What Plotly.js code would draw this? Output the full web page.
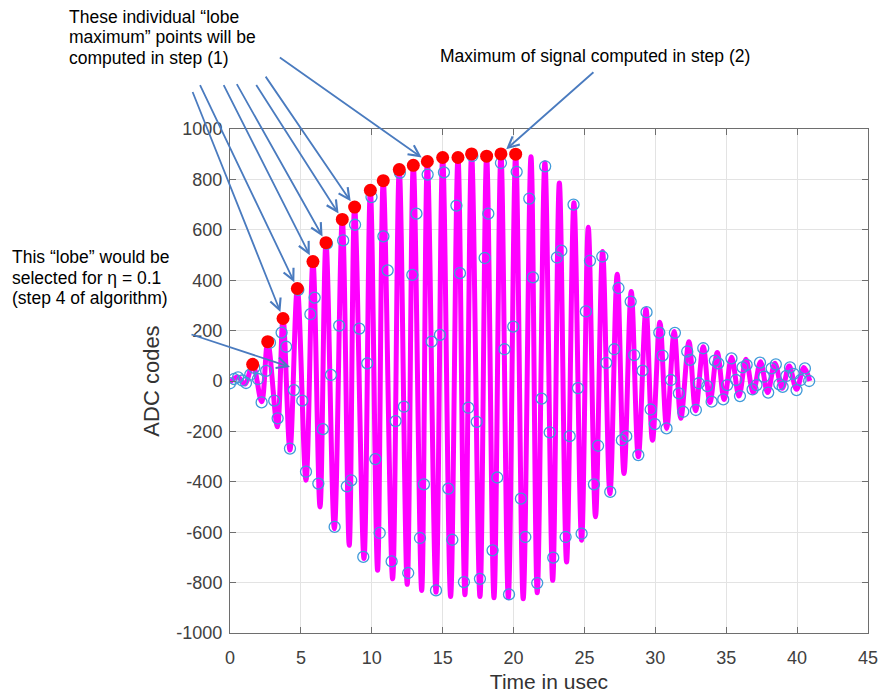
<!DOCTYPE html>
<html>
<head>
<meta charset="utf-8">
<script src="https://cdn.plot.ly/plotly-3.0.1.min.js"></script>
<style>html,body{margin:0;padding:0;background:#fff;}#chart{width:881px;height:696px;}</style>
</head>
<body>
<div id="chart"></div>
<script>
// Interpolated signal: lobe extrema (time in usec, ADC codes)
const curveT = [0.00,0.55,1.05,1.60,2.23,2.66,3.34,3.74,4.23,4.75,5.36,5.85,6.35,6.77,7.36,7.92,8.41,8.79,9.45,9.90,
  10.41,10.81,11.47,11.94,12.50,12.93,13.52,13.92,14.53,15.00,15.56,16.08,16.57,17.04,17.63,18.10,18.62,19.11,19.63,20.15,
  20.68,21.23,21.67,22.21,22.76,23.23,23.74,24.26,24.80,25.27,25.78,26.28,26.80,27.31,27.79,28.30,28.80,29.34,29.80,30.32,
  30.80,31.33,31.80,32.37,32.84,33.38,33.85,34.37,34.86,35.38,35.90,36.39,36.90,37.42,37.92,38.43,38.95,39.44,39.96,40.48,40.90];
const curveV = [-5,16,-12,66,-82,156,-182,248,-274,367,-394,474,-500,549,-586,641,-652,690,-704,757,
  -751,795,-785,839,-807,856,-831,871,-838,887,-855,887,-848,901,-855,892,-860,901,-860,900,
  -864,890,-840,866,-791,786,-718,707,-632,610,-539,514,-447,424,-367,355,-301,285,-235,233,
  -188,196,-148,156,-118,136,-85,113,-73,94,-60,86,-45,76,-46,70,-29,60,-33,54,0];

// ADC samples (open circles)
const sampleT = [0.00,0.29,0.57,0.86,1.13,1.43,1.71,1.97,2.23,2.55,2.82,3.12,3.36,3.64,3.96,4.23,4.51,4.82,5.10,5.36,
  5.67,5.97,6.23,6.55,6.84,7.12,7.38,7.70,7.98,8.24,8.55,8.82,9.12,9.40,9.68,9.98,10.25,10.56,10.82,11.12,
  11.40,11.68,11.98,12.27,12.57,12.86,13.15,13.40,13.68,13.94,14.22,14.53,14.81,15.09,15.40,15.68,15.97,16.22,16.50,16.81,
  17.09,17.40,17.63,17.96,18.22,18.52,18.85,19.11,19.36,19.68,19.98,20.22,20.52,20.83,21.11,21.37,21.67,21.98,22.23,22.55,
  22.80,23.06,23.37,23.67,23.96,24.23,24.54,24.80,25.10,25.39,25.67,25.96,26.26,26.54,26.82,27.10,27.40,27.64,27.95,28.26,
  28.51,28.80,29.10,29.38,29.67,29.97,30.28,30.51,30.79,31.10,31.38,31.66,31.97,32.25,32.46,32.86,33.07,33.38,33.66,33.97,
  34.20,34.44,34.79,35.07,35.37,35.69,35.97,36.15,36.44,36.86,37.14,37.38,37.66,37.96,38.20,38.50,38.74,38.98,39.24,39.50,
  39.76,39.96,40.25,40.55,40.85];
const sampleV = [-9,8,14,2,-8,25,52,8,-85,40,152,-78,-148,192,136,-268,-36,362,-78,-360,
  265,331,-407,-191,545,24,-579,220,558,-418,-394,620,208,-698,70,730,-310,-603,574,439,
  -716,-159,826,-102,-762,421,664,-623,-410,819,156,-831,183,828,-427,-630,696,428,-798,-106,
  893,-162,-785,488,664,-672,-383,865,126,-847,216,830,-467,-619,724,411,-802,-70,852,-204,
  -701,490,517,-619,-219,700,-28,-606,276,477,-410,-257,494,72,-440,126,369,-235,-219,315,
  103,-294,41,273,-113,-171,192,101,-188,4,191,-49,-122,117,84,-115,-9,130,-20,-82,
  81,70,-73,-16,90,4,-60,54,64,-33,-16,73,17,-46,50,66,-13,-23,20,54,
  28,-36,4,50,0];

// Individual "lobe maximum" points (red dots)
const lobeT = [1.60,2.66,3.74,4.75,5.85,6.77,7.92,8.79,9.90,10.81,11.94,12.93,13.92,15.00,16.08,17.04,18.10,19.11,20.15];
const lobeV = [66,156,248,367,474,549,641,690,757,795,839,856,871,887,887,901,892,901,900];

const xTickVals = [0,5,10,15,20,25,30,35,40,45];
const xTickText = ['0','5','10','15','20','25','30','35','40','45'];
const yTickVals = [-1000,-800,-600,-400,-200,0,200,400,600,800,1000];
const yTickText = ['-1000','-800','-600','-400','-200','0','200','400','600','800','1000'];

const W = 881, H = 696;
const M = {l: 230, r: 13, t: 129, b: 63};
const pw = W - M.l - M.r, ph = H - M.t - M.b;
const px = X => (X - M.l) / pw;
const py = Y => (H - M.b - Y) / ph;

const FONT = 'Arial, "Liberation Sans", sans-serif';
const ARROW = '#4a7bbf';

const traces = [
  {x: curveT, y: curveV, type: 'scatter', mode: 'lines',
   line: {color: '#ff00ff', width: 5, shape: 'spline', smoothing: 1}, hoverinfo: 'skip', showlegend: false},
  {x: sampleT, y: sampleV, type: 'scatter', mode: 'markers',
   marker: {symbol: 'circle-open', size: 11, color: '#409ad9', line: {width: 1.3, color: '#409ad9'}}, showlegend: false},
  {x: lobeT, y: lobeV, type: 'scatter', mode: 'markers',
   marker: {symbol: 'circle', size: 13, color: '#ff0000'}, showlegend: false}
];

function arrowTo(i, tailX, tailY) {
  return {x: lobeT[i], y: lobeV[i], xref: 'x', yref: 'y', text: '', showarrow: true,
    arrowhead: 5, arrowsize: 1.2, arrowwidth: 1.8, arrowcolor: ARROW, standoff: 7,
    ax: tailX, ay: tailY, axref: 'pixel', ayref: 'pixel'};
}
function label(text, X, Yc) {
  return {x: px(X), y: py(Yc), xref: 'paper', yref: 'paper', xanchor: 'left', yanchor: 'middle',
    text: text, showarrow: false, font: {family: FONT, size: 17.5, color: '#000'}, borderpad: 0};
}

const annotations = [
  arrowTo(2, -91, -228),
  arrowTo(3, -98, -205),
  arrowTo(4, -90, -178),
  arrowTo(5, -90, -160),
  arrowTo(6, -87, -136),
  arrowTo(7, -90, -132),
  arrowTo(12, -149, -105),
  arrowTo(17, 94, -83),
  {x: px(290), y: py(367), xref: 'paper', yref: 'paper', text: '', showarrow: true,
   arrowhead: 5, arrowsize: 1.2, arrowwidth: 1.8, arrowcolor: ARROW, standoff: 0, ax: -100, ay: -33},
  label('These individual “lobe', 68, 17),
  label('maximum” points will be', 68, 37.5),
  label('computed in step (1)', 68, 57.5),
  label('Maximum of signal computed in step (2)', 439, 56),
  label('This “lobe” would be', 11, 256.5),
  label('selected for η = 0.1', 11, 277.5),
  label('(step 4 of algorithm)', 11, 297.5)
];

const axisCommon = {
  showline: true, linecolor: '#6e6e6e', linewidth: 1, mirror: 'ticks',
  ticks: 'inside', ticklen: 6, tickwidth: 1, tickcolor: '#6e6e6e',
  showgrid: true, gridcolor: '#e3e3e3', gridwidth: 1, zeroline: false,
  tickfont: {family: FONT, size: 18, color: '#404040'}
};

const layout = {
  width: W, height: H, margin: M,
  paper_bgcolor: '#ffffff', plot_bgcolor: '#ffffff',
  font: {family: FONT},
  xaxis: Object.assign({}, axisCommon, {
    range: [0, 45], tickmode: 'array', tickvals: xTickVals, ticktext: xTickText, ticklabelstandoff: 8,
    title: {text: 'Time in usec', font: {family: FONT, size: 21, color: '#333'}, standoff: 7}
  }),
  yaxis: Object.assign({}, axisCommon, {
    range: [-1000, 1000], tickmode: 'array', tickvals: yTickVals, ticktext: yTickText, ticklabelstandoff: 3,
    title: {text: 'ADC codes', font: {family: FONT, size: 22, color: '#333'}, standoff: 10}
  }),
  annotations: annotations,
  showlegend: false
};

Plotly.newPlot('chart', traces, layout, {displayModeBar: false, staticPlot: true});
</script>
</body>
</html>
